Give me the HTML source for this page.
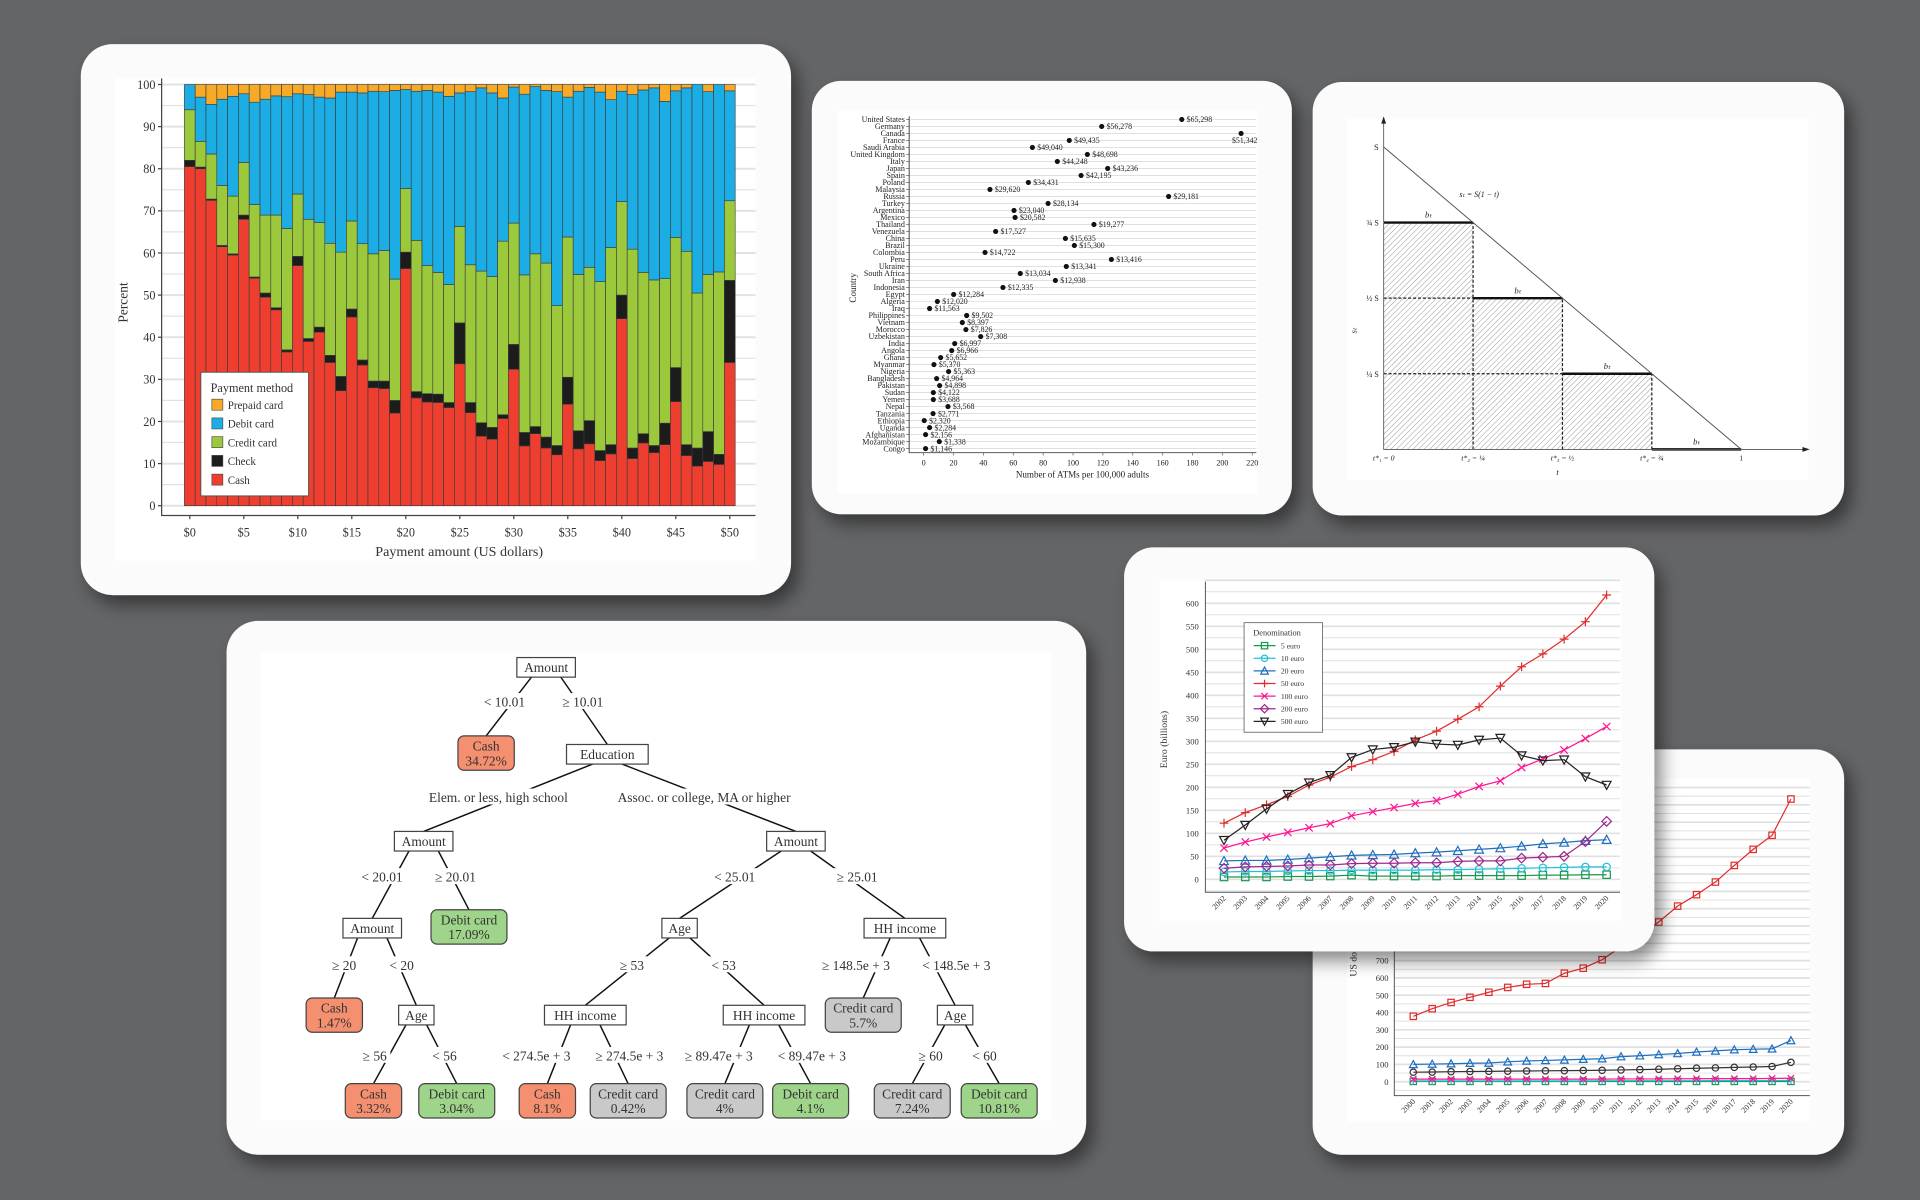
<!DOCTYPE html>
<html><head><meta charset="utf-8">
<style>
html,body{margin:0;padding:0;background:#646567;}
svg{display:block;font-family:"Liberation Serif",serif;}
</style></head>
<body>
<svg id="root" width="1920" height="1200" viewBox="0 0 1568 980" xmlns="http://www.w3.org/2000/svg">
<defs>
<filter id="sh" x="-10%" y="-10%" width="125%" height="130%">
<feDropShadow dx="6" dy="8" stdDeviation="7" flood-color="#000" flood-opacity="0.45"/>
</filter>
<pattern id="hatch" width="3.2" height="3.2" patternUnits="userSpaceOnUse" patternTransform="rotate(45)">
<line x1="0" y1="0" x2="0" y2="3.2" stroke="#8a8a8a" stroke-width="0.7"/>
</pattern>
</defs>
<rect x="0" y="0" width="1568" height="980" fill="#646567"/>
<g id="card1">
<rect x="66" y="36" width="580" height="450" rx="26" fill="#fbfbfb" filter="url(#sh)"/>
<rect x="94" y="64" width="523" height="394" fill="#ffffff"/>
</g>
<g id="card2">
<rect x="663" y="66" width="392" height="354" rx="24" fill="#fbfbfb" filter="url(#sh)"/>
<rect x="684" y="90" width="343" height="313" fill="#ffffff"/>
</g>
<g id="card3">
<rect x="1072" y="67" width="434" height="354" rx="24" fill="#fbfbfb" filter="url(#sh)"/>
<rect x="1100" y="97" width="377" height="295" fill="#ffffff"/>
</g>
<g id="card4">
<rect x="185" y="507" width="702" height="436" rx="26" fill="#fbfbfb" filter="url(#sh)"/>
<rect x="213" y="533" width="645" height="382" fill="#ffffff"/>
</g>
<g id="card5">
<rect x="1072" y="612" width="434" height="331" rx="24" fill="#fbfbfb" filter="url(#sh)"/>
<rect x="1100" y="636" width="378" height="280" fill="#ffffff"/>
</g>
<g id="card6">
<rect x="918" y="447" width="433" height="330" rx="24" fill="#fbfbfb" filter="url(#sh)"/>
<rect x="947" y="474" width="377" height="278" fill="#ffffff"/>
</g>
</svg>
<script>
const NS='http://www.w3.org/2000/svg';
function mk(tag,attrs,parent){const e=document.createElementNS(NS,tag);for(const k in attrs)e.setAttribute(k,attrs[k]);parent.appendChild(e);return e;}
function tx(parent,x,y,s,size,anchor,fill){const e=mk('text',{x:x,y:y,'font-size':size,'text-anchor':anchor||'start',fill:fill||'#222'},parent);e.textContent=s;return e;}

/* ===== Chart 1: payment method stacked bars ===== */
const payCats=['0','1','2','3','4','5','6','7','8','9','10','11','12','13','14','15','16','17','18','19','20','21','22','23','24','25','26','27','28','29','30','31','32','33','34','35','36','37','38','39','40','41','42','43','44','45','46','47','48','49','50'];
const cashPct=[80.5,80,72.5,61.5,59.5,68,54,49.5,46.5,36.5,57,39,41.2,34,27.3,44.8,33.4,28,27.8,22,56.3,25.6,24.6,24.5,23.3,33.7,22.1,16.5,15.8,20.7,32.4,14.2,17.1,13.7,12.1,24.1,13.5,14.7,10.7,12.3,44.4,11.2,14.9,12.6,14.5,24.7,11.9,9.4,10.5,9.8,34];
const checkPct=[1.5,0.4,0.3,0.3,0.3,1,0.3,1,0.5,0.5,2.2,0.7,1.2,1.7,3.4,1.9,1.2,1.6,1.8,3,3.9,1.5,2,2,1.2,9.7,2.4,3.2,2.8,0.9,5.9,3.2,1.7,2.6,2.2,6.4,4.3,5.5,2.4,2.2,5.6,2.5,2.2,1.7,5.1,8.1,2.6,4.3,7.1,2.4,19.5];
const creditPct=[12,6.1,10.7,14.2,13.7,12.5,17.2,18.5,22,28.8,14.8,28.3,24.8,26.6,29.5,20.9,27.6,30.2,31,28.8,15.1,35.9,30.4,28.9,28,22.9,32.7,36,35.8,41.2,28.8,37.4,41,41.3,33.2,33.3,37.1,36.4,40.1,46.8,22.2,47.2,38.3,39.3,34.3,30.9,45.9,36.8,37.3,43.3,18.9];
const debitPct=[6,10.5,11.8,20.5,23.7,16.3,24.3,27.5,28.3,31.3,23.8,29.6,29.8,34.5,38,30.6,35.8,38.6,37.7,44.8,23.5,35.4,41.6,42.8,44.7,31.7,41.1,43.5,43.6,34,32.3,42.9,39.7,41,50.8,33.2,43.5,42.7,45,35.1,26.2,36.7,43.3,45.6,42.1,34.8,38.8,49.5,43.4,44.5,26.1];
const prepaidPct=[0,3,4.7,3.5,2.8,2.2,4.2,3.5,2.7,2.9,2.2,2.4,3,3.2,1.8,1.8,2,1.6,1.7,1.4,1.2,1.6,1.4,1.8,2.8,2,1.7,0.8,2,3.2,0.6,2.3,0.5,1.4,1.7,3,1.6,0.7,1.8,3.6,1.6,2.4,1.3,0.8,4,1.5,0.8,0,1.7,0,1.5];
const payYTicks=[0,10,20,30,40,50,60,70,80,90,100];
const payXTicks=['$0','$5','$10','$15','$20','$25','$30','$35','$40','$45','$50'];
const payNames=['Cash','Check','Credit card','Debit card','Prepaid card'];
{
 const g=document.getElementById('card1');
 const ys=v=>413-v*3.44, xs=i=>155+i*8.82;
 for(let v=0;v<=100;v+=5){const l=mk('line',{x1:132,x2:617,y1:ys(v),y2:ys(v),stroke:'#e2e2e2','stroke-width':v%10?1:1.6},g);
 
 }
 const series=[cashPct,checkPct,creditPct,debitPct,prepaidPct];
 const cols=['#ee3e2f','#1c1c1c','#9cc83c','#1badE3','#f7a928'];
 payCats.forEach((c,i)=>{let base=0;series.forEach((arr,s)=>{const v=arr[i];if(v<=0)return;
  const r=mk('rect',{x:xs(i)-4.41,y:ys(base+v),width:8.82,height:v*3.44,fill:cols[s],stroke:'#3a3a3a','stroke-width':0.5},g);
  
  
  base+=v;});});
 const ax=mk('path',{d:'M132,64 V421 H617',fill:'none',stroke:'#444','stroke-width':1},g);
 
 
 payYTicks.forEach(v=>{const t=tx(g,127,ys(v)+3.5,String(v),10,'end','#333');
  
  
  const tk=mk('line',{x1:129,x2:132,y1:ys(v),y2:ys(v),stroke:'#444'},g);
  
  });
 payXTicks.forEach((s,k)=>{const x=xs(k*5);const t=tx(g,x,438,s,10,'middle','#333');
  
  
  const tk=mk('line',{x1:x,x2:x,y1:421,y2:424,stroke:'#444'},g);
  
  });
 const xt=tx(g,375,454,'Payment amount (US dollars)',11.5,'middle','#333');
 
 
 const yt=tx(g,0,0,'Percent',11,'middle','#333');yt.setAttribute('transform','translate(104,247) rotate(-90)');
 
 
 const lg=mk('g',{},g);
 
 
 const lb=mk('rect',{x:164,y:304,width:88,height:101,fill:'#fff',stroke:'#555','stroke-width':0.8},lg);
 
 
 const lt=tx(lg,172,320,'Payment method',10,'start','#333');
 
 
 const order=[4,3,2,1,0];
 order.forEach((s,k)=>{const y=326+k*15.3;
  const sw=mk('rect',{x:173,y:y,width:9,height:9,fill:cols[s],stroke:'#444','stroke-width':0.5},lg);
  
  
  const t=tx(lg,186,y+8,payNames[s],9,'start','#333');
  
  });
}

/* ===== Chart 2: ATMs dot plot ===== */
const atmCountries=['United States','Germany','Canada','France','Saudi Arabia','United Kingdom','Italy','Japan','Spain','Poland','Malaysia','Russia','Turkey','Argentina','Mexico','Thailand','Venezuela','China','Brazil','Colombia','Peru','Ukraine','South Africa','Iran','Indonesia','Egypt','Algeria','Iraq','Philippines','Vietnam','Morocco','Uzbekistan','India','Angola','Ghana','Myanmar','Nigeria','Bangladesh','Pakistan','Sudan','Yemen','Nepal','Tanzania','Ethiopia','Uganda','Afghanistan','Mozambique','Congo'];
const atmValues=[172.8,119.2,212.5,97.5,72.8,109.6,89.5,123.2,105.4,70.1,44.4,164,83.3,60.5,61.2,114,48.2,94.9,100.9,41.1,125.7,95.5,64.7,88.2,53.1,20.1,9.2,4,28.8,25.9,28.3,38.2,20.8,18.8,11.4,6.9,16.7,8.7,10.7,6.5,6.5,16.3,6.3,0.4,4,1.3,10.5,1.3];
const gdpLabels=['$65,298','$56,278','$51,342','$49,435','$49,040','$48,698','$44,248','$43,236','$42,195','$34,431','$29,620','$29,181','$28,134','$23,040','$20,582','$19,277','$17,527','$15,635','$15,300','$14,722','$13,416','$13,341','$13,034','$12,938','$12,335','$12,284','$12,020','$11,563','$9,502','$8,397','$7,826','$7,308','$6,997','$6,966','$5,652','$5,370','$5,363','$4,964','$4,898','$4,122','$3,688','$3,568','$2,771','$2,320','$2,284','$2,156','$1,338','$1,146'];
const atmTicks=[0,20,40,60,80,100,120,140,160,180,200,220];
{
 const g=document.getElementById('card2');
 const xs=v=>754.3+v*1.22, ys=i=>97.5+i*5.72;
 atmCountries.forEach((c,i)=>{const y=ys(i);
  const gl=mk('line',{x1:742,x2:1026,y1:y,y2:y,stroke:'#dcdcdc','stroke-width':0.7},g);
  
  
  const t=tx(g,739,y+2.2,c,6.6,'end','#222');
  
  
  const tk=mk('line',{x1:740,x2:742.5,y1:y,y2:y,stroke:'#444','stroke-width':0.5},g);
  
  });
 const ax=mk('path',{d:'M742.5,95 V369.7 H1026',fill:'none',stroke:'#444','stroke-width':0.8},g);
 
 
 atmValues.forEach((v,i)=>{const x=xs(v),y=ys(i);
  const d=mk('circle',{cx:x,cy:y,r:2.1,fill:'#111'},g);
  
  
  const canada=(atmCountries[i]==='Canada');
  const t=tx(g,canada?x+3:x+4,canada?y+8:y+2.2,gdpLabels[i],6.4,canada?'middle':'start','#222');
  
  });
 atmTicks.forEach(v=>{const x=xs(v);
  const tk=mk('line',{x1:x,x2:x,y1:369.7,y2:372,stroke:'#444','stroke-width':0.5},g);
  
  
  const t=tx(g,x,380,String(v),6.6,'middle','#222');
  
  });
 const xt=tx(g,884,390,'Number of ATMs per 100,000 adults',7.4,'middle','#222');
 
 
 const yt=tx(g,0,0,'Country',7.4,'middle','#222');yt.setAttribute('transform','translate(699,235) rotate(-90)');
 
 
}

/* ===== Chart 3: sales triangle ===== */
const tStar=[0,0.25,0.5,0.75];
const tLevels=[0.75,0.5,0.25,0];
const tTickLabels=['t*₁ = 0','t*₂ = ¼','t*₃ = ½','t*₄ = ¾'];
const sLabels=['¾ S','½ S','¼ S'];
{
 const g=document.getElementById('card3');
 const X=t=>1130+t*292, Y=s=>367-s*247;
 tStar.forEach((t,i)=>{const h=mk('rect',{x:X(t),y:Y(tLevels[i]),width:X(0.25)-X(0),height:Y(0)-Y(tLevels[i]),fill:'url(#hatch)'},g);
  
  });
 tStar.forEach((t,i)=>{ if(i>0){const v=mk('line',{x1:X(t),x2:X(t),y1:Y(0),y2:Y(tLevels[i-1]),stroke:'#222','stroke-width':1,'stroke-dasharray':'2.5,1.5'},g);
  
  
  if(tLevels[i]>0){const hz=mk('line',{x1:X(0),x2:X(t),y1:Y(tLevels[i]),y2:Y(tLevels[i]),stroke:'#222','stroke-width':1,'stroke-dasharray':'2.5,1.5'},g);
  
  }}
  const b=mk('line',{x1:X(t),x2:X(t+0.25),y1:Y(tLevels[i]),y2:Y(tLevels[i]),stroke:'#111','stroke-width':2},g);
  
  
  const bl=tx(g,(X(t)+X(t+0.25))/2,Y(tLevels[i])-4,'bₜ',7,'middle','#222');bl.setAttribute('font-style','italic');
  
  
  const tl=tx(g,X(t),376,tTickLabels[i],6.3,'middle','#222');tl.setAttribute('font-style','italic');
  
  });
 const one=tx(g,X(1),376,'1',6.3,'middle','#222');
 
 
 const dg=mk('line',{x1:X(0),y1:Y(1),x2:X(1),y2:Y(0),stroke:'#555','stroke-width':0.8},g);
 
 
 const ax=mk('path',{d:`M${X(0)},97 V${Y(0)} H1476`,fill:'none',stroke:'#555','stroke-width':0.7},g);
 
 
 const ar1=mk('path',{d:`M${X(0)-2},101 L${X(0)},95 L${X(0)+2},101 Z M1472,${Y(0)-2} L1478,${Y(0)} L1472,${Y(0)+2} Z`,fill:'#222'},g);
 
 
 const sl=tx(g,1126,Y(1)+2.5,'S',7,'end','#222');
 
 
 sLabels.forEach((s,i)=>{const t=tx(g,1126,Y(tLevels[i])+2.5,s,6.5,'end','#222');
  
  });
 const eq=tx(g,1208,161,'sₜ = S(1 − t)',6.5,'middle','#222');eq.setAttribute('font-style','italic');
 
 
 const xt=tx(g,1272,388,'t',7,'middle','#222');xt.setAttribute('font-style','italic');
 
 
 const yt=tx(g,0,0,'sₜ',7,'middle','#222');yt.setAttribute('transform','translate(1108,270) rotate(-90)');yt.setAttribute('font-style','italic');
 
 
}

/* ===== Chart 4: decision tree ===== */
const treeNodes=[
 ['n0','Amount','',446,545,'split'],['n1','Cash','34.72%',397,615,'cash'],['n2','Education','',496,616,'split'],
 ['n3','Amount','',346,687,'split'],['n4','Amount','',650,687,'split'],
 ['n5','Amount','',304,758,'split'],['n6','Debit card','17.09%',383,757,'debit'],['n7','Age','',555,758,'split'],['n8','HH income','',739,758,'split'],
 ['n9','Cash','1.47%',273,829,'cash'],['n10','Age','',340,829,'split'],['n11','HH income','',478,829,'split'],['n12','HH income','',624,829,'split'],['n13','Credit card','5.7%',705,829,'credit'],['n14','Age','',780,829,'split'],
 ['n15','Cash','3.32%',305,899,'cash'],['n16','Debit card','3.04%',373,899,'debit'],['n17','Cash','8.1%',447,899,'cash'],['n18','Credit card','0.42%',513,899,'credit'],['n19','Credit card','4%',592,899,'credit'],['n20','Debit card','4.1%',662,899,'debit'],['n21','Credit card','7.24%',745,899,'credit'],['n22','Debit card','10.81%',816,899,'debit']];
const treeEdges=[['n0','n1','< 10.01',412,575],['n0','n2','≥ 10.01',476,575],['n2','n3','Elem. or less, high school',407,653],['n2','n4','Assoc. or college, MA or higher',575,653],
 ['n3','n5','< 20.01',312,718],['n3','n6','≥ 20.01',372,718],['n4','n7','< 25.01',600,718],['n4','n8','≥ 25.01',700,718],
 ['n5','n9','≥ 20',281,790],['n5','n10','< 20',328,790],['n7','n11','≥ 53',516,790],['n7','n12','< 53',591,790],['n8','n13','≥ 148.5e + 3',699,790],['n8','n14','< 148.5e + 3',781,790],
 ['n10','n15','≥ 56',306,864],['n10','n16','< 56',363,864],['n11','n17','< 274.5e + 3',438,864],['n11','n18','≥ 274.5e + 3',514,864],['n12','n19','≥ 89.47e + 3',587,864],['n12','n20','< 89.47e + 3',663,864],['n14','n21','≥ 60',760,864],['n14','n22','< 60',804,864]];
{
 const g=document.getElementById('card4');
 const fills={cash:'#f48f70',debit:'#9fd58a',credit:'#c9c9c9',split:'#ffffff'};
 const info={};
 treeNodes.forEach(n=>{const leaf=n[5]!=='split';const w=leaf?(n[1].length>5?62:46):n[1].length*6.3+10;const h=leaf?28:16;info[n[0]]={x:n[3],y:n[4],w:w,h:h};});
 treeEdges.forEach(e=>{const p=info[e[0]],c=info[e[1]];
  const l=mk('line',{x1:p.x+(c.x<p.x?-1:1)*Math.min(p.w/2-6,12),y1:p.y+p.h/2,x2:c.x,y2:c.y-c.h/2,stroke:'#111','stroke-width':1.2},g);
  
  
  const w=e[2].length*5.4+4;
  const bg=mk('rect',{x:e[3]-w/2,y:e[4]-9,width:w,height:13,fill:'#fff'},g);
  
  
  const t=tx(g,e[3],e[4]+2,e[2],11,'middle','#333');
  
  });
 treeNodes.forEach(n=>{const o=info[n[0]];const leaf=n[5]!=='split';
  const r=mk('rect',{x:o.x-o.w/2,y:o.y-o.h/2,width:o.w,height:o.h,rx:leaf?5:0,fill:fills[n[5]],stroke:'#444','stroke-width':1},g);
  
  
  if(leaf){const a=tx(g,o.x,o.y-2,n[1],11,'middle','#333');
   
   
   const b=tx(g,o.x,o.y+10,n[2],11,'middle','#333');
   
   }
  else{const a=tx(g,o.x,o.y+4,n[1],11,'middle','#333');
   
   }});
}

/* marker helper */
function marker(parent,type,x,y,col,s){let e;
 if(type==='square')e=mk('rect',{x:x-s,y:y-s,width:2*s,height:2*s,fill:'none',stroke:col,'stroke-width':1},parent);
 else if(type==='circle')e=mk('circle',{cx:x,cy:y,r:s,fill:'none',stroke:col,'stroke-width':1},parent);
 else if(type==='tri')e=mk('path',{d:`M${x},${y-s*1.2} L${x+s*1.2},${y+s} L${x-s*1.2},${y+s} Z`,fill:'none',stroke:col,'stroke-width':1},parent);
 else if(type==='tridown')e=mk('path',{d:`M${x},${y+s*1.2} L${x+s*1.2},${y-s} L${x-s*1.2},${y-s} Z`,fill:'none',stroke:col,'stroke-width':1},parent);
 else if(type==='plus')e=mk('path',{d:`M${x-s*1.2},${y} H${x+s*1.2} M${x},${y-s*1.2} V${y+s*1.2}`,fill:'none',stroke:col,'stroke-width':1},parent);
 else if(type==='x')e=mk('path',{d:`M${x-s},${y-s} L${x+s},${y+s} M${x-s},${y+s} L${x+s},${y-s}`,fill:'none',stroke:col,'stroke-width':1},parent);
 else e=mk('path',{d:`M${x},${y-s*1.3} L${x+s*1.3},${y} L${x},${y+s*1.3} L${x-s*1.3},${y} Z`,fill:'none',stroke:col,'stroke-width':1},parent);
 return e;}

/* ===== Chart 5: US currency (back) ===== */
const usYears=['2000','2001','2002','2003','2004','2005','2006','2007','2008','2009','2010','2011','2012','2013','2014','2015','2016','2017','2018','2019','2020'];
const us100=[378,422,458,488,517,545,563,568,627,656,705,780,850,923,1015,1081,1154,1250,1343,1424,1634];
const us50=[100,102,104,107,108,115,120,123,126,130,133,145,150,157,163,172,178,185,188,190,238];
const us20=[55,56,58,59,60,61,62,63,64,65,66,68,70,72,75,78,80,83,85,88,112];
const us10=[15,15,15,15,15,15,15,15,15,15,15,16,16,16,17,17,18,18,18,19,20];
const us5=[5,5,5,5,5,5,5,5,5,5,6,6,6,6,6,6,7,7,7,7,8];
const us1=[2,2,2,2,2,2,2,2,2,2,2,2,2,2,2,2,2,2,2,2,2];
const usYTicks=[0,100,200,300,400,500,600,700,800,900,1000,1100,1200,1300,1400,1500,1600];
{
 const g=document.getElementById('card5');
 const xs=i=>1154.2+i*15.42, ys=v=>883.4-v*0.1413;
 for(let v=-50;v<=1700;v+=50){const l=mk('line',{x1:1139,x2:1478,y1:ys(v),y2:ys(v),stroke:'#e0e0e0','stroke-width':v%100?0.8:1.4},g);
  
  }
 const ax=mk('path',{d:'M1138.7,642 V894.8 H1478',fill:'none',stroke:'#555','stroke-width':0.8},g);
 
 
 usYTicks.forEach(v=>{const t=tx(g,1134,ys(v)+2.5,String(v),7,'end','#333');
  
  });
 usYears.forEach((yr,i)=>{const t=tx(g,0,0,yr,6.5,'end','#333');t.setAttribute('transform',`translate(${xs(i)+2},${900}) rotate(-45)`);
  
  });
 const yt=tx(g,0,0,'US dollars (billions)',8,'middle','#333');yt.setAttribute('transform','translate(1108,765) rotate(-90)');
 
 
 const ser=[[us1,'#1a9850','square','1-dollar'],[us5,'#22c0d8','plus','5-dollar'],[us10,'#ff1493','x','10-dollar'],[us20,'#333333','circle','20-dollar'],[us50,'#1f6fc0','tri','50-dollar'],[us100,'#e02d2d','square','100-dollar']];
 ser.forEach(s=>{const d=s[0].map((v,i)=>(i?'L':'M')+xs(i)+','+ys(v)).join(' ');
  const p=mk('path',{d:d,fill:'none',stroke:s[1],'stroke-width':1},g);
  
  
  s[0].forEach((v,i)=>{const m=marker(g,s[2],xs(i),ys(v),s[1],2.6);
   
   });});
}

/* ===== Chart 6: Euro banknotes (front) ===== */
const euroYears=['2002','2003','2004','2005','2006','2007','2008','2009','2010','2011','2012','2013','2014','2015','2016','2017','2018','2019','2020'];
const eur5=[5,5,5,6,6,7,9,7,7,7,7,8,8,8,8,9,9,10,10];
const eur10=[16,17,17,18,19,19,20,20,20,20,21,21,22,23,24,25,26,27,27];
const eur20=[40,41,41,43,46,49,52,53,54,57,59,62,65,68,72,77,80,84,86];
const eur50=[122,145,162,180,205,222,245,260,278,303,322,348,375,420,462,490,522,560,618];
const eur100=[68,81,92,102,112,121,138,147,156,165,171,185,202,214,243,262,281,306,332];
const eur200=[24,27,28,29,31,31,34,35,35,36,36,39,40,40,46,48,50,82,126];
const eur500=[85,118,153,185,210,226,265,282,287,299,294,292,303,307,269,258,260,223,205];
const euroYTicks=[0,50,100,150,200,250,300,350,400,450,500,550,600];
{
 const g=document.getElementById('card6');
 const xs=i=>999.6+i*17.36, ys=v=>718.1-v*0.3757;
 for(let v=-25;v<=650;v+=25){const l=mk('line',{x1:984.4,x2:1323,y1:ys(v),y2:ys(v),stroke:'#e0e0e0','stroke-width':v%50?0.8:1.3},g);
  
  }
 const ax=mk('path',{d:'M984.4,475 V728.7 H1323',fill:'none',stroke:'#555','stroke-width':0.8},g);
 
 
 euroYTicks.forEach(v=>{const t=tx(g,979,ys(v)+2.5,String(v),7,'end','#333');
  
  });
 euroYears.forEach((yr,i)=>{const t=tx(g,0,0,yr,6.5,'end','#333');t.setAttribute('transform',`translate(${xs(i)+2},${734}) rotate(-45)`);
  
  });
 const yt=tx(g,0,0,'Euro (billions)',8,'middle','#333');yt.setAttribute('transform','translate(953,604) rotate(-90)');
 
 
 const ser=[[eur5,'#1a9850','square','5 euro'],[eur10,'#22c0d8','circle','10 euro'],[eur20,'#1f6fc0','tri','20 euro'],[eur50,'#e02d2d','plus','50 euro'],[eur100,'#ff1493','x','100 euro'],[eur200,'#a0288c','diamond','200 euro'],[eur500,'#222222','tridown','500 euro']];
 ser.forEach(s=>{const d=s[0].map((v,i)=>(i?'L':'M')+xs(i)+','+ys(v)).join(' ');
  const p=mk('path',{d:d,fill:'none',stroke:s[1],'stroke-width':1},g);
  
  
  s[0].forEach((v,i)=>{const m=marker(g,s[2],xs(i),ys(v),s[1],3);
   
   });});
 const lg=mk('g',{},g);
 
 
 const lb=mk('rect',{x:1016,y:508.5,width:64,height:89.5,fill:'#fff',stroke:'#666','stroke-width':0.7},lg);
 
 
 const lt=tx(lg,1023.5,519,'Denomination',6.8,'start','#333');
 
 
 ser.forEach((s,k)=>{const y=527.3+k*10.3;
  const l=mk('line',{x1:1023.8,x2:1041.7,y1:y,y2:y,stroke:s[1],'stroke-width':1},lg);
  
  
  const m=marker(lg,s[2],1032.7,y,s[1],2.6);
  
  
  const t=tx(lg,1046,y+2.2,s[3],6.3,'start','#333');
  
  });
}
</script>
</body></html>
